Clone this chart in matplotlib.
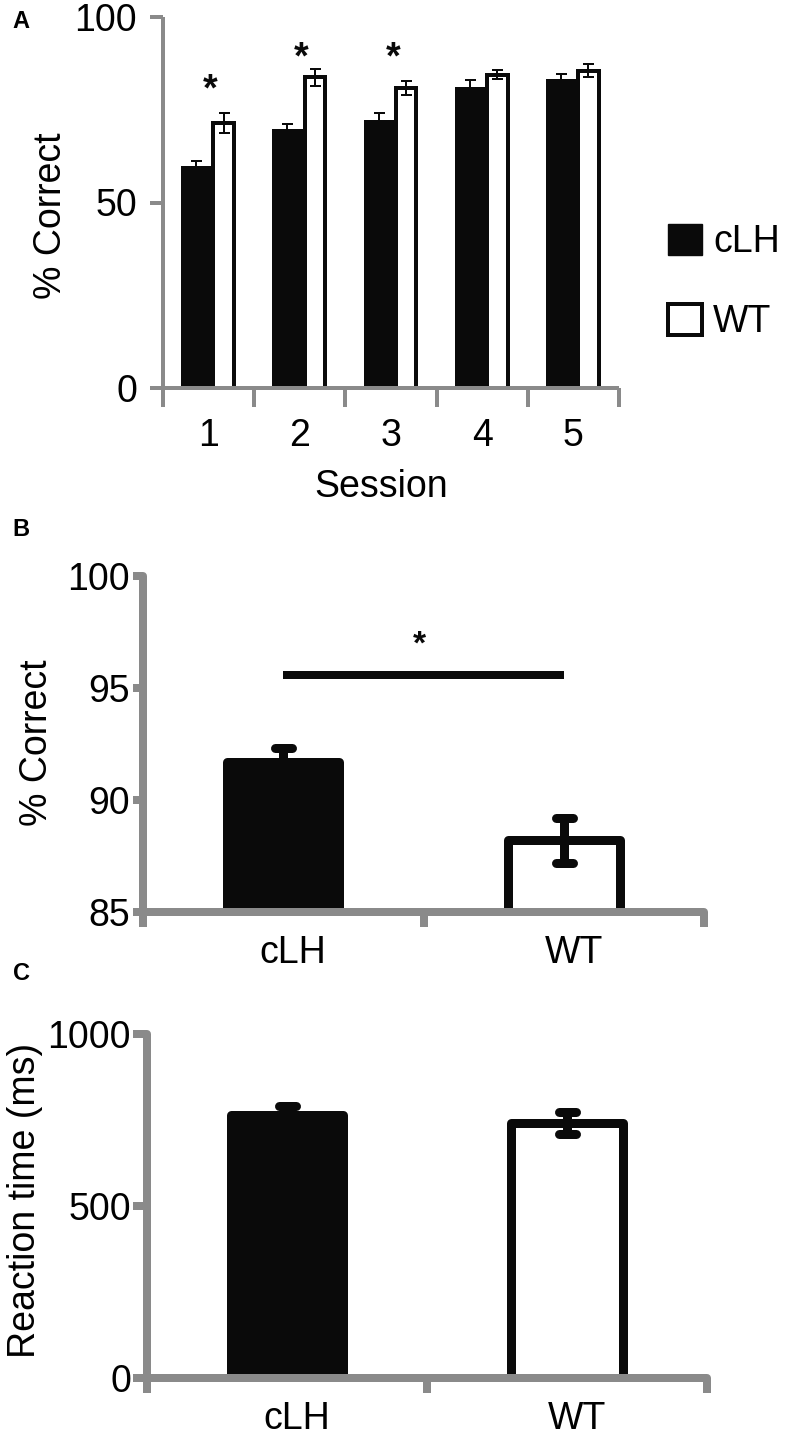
import matplotlib
matplotlib.use('Agg')
import matplotlib.pyplot as plt
from matplotlib.patches import Patch
from matplotlib.markers import MarkerStyle
import numpy as np

plt.rcParams['font.family'] = ['Liberation Sans', 'DejaVu Sans']

# ---------------- data ----------------
# Panel A: % correct per session
sessions = ['1', '2', '3', '4', '5']
clh_pct = [59.9, 69.8, 72.2, 81.0, 83.3]
clh_pct_err = [1.2, 1.3, 1.8, 2.0, 1.3]
wt_pct = [71.4, 83.7, 80.8, 84.4, 85.5]
wt_pct_err = [2.6, 2.4, 1.9, 1.2, 1.7]
sig_session_idx = [0, 1, 2]
sig_star_y = [80.3, 88.7, 88.7]

# Panel B: overall % correct
groups = ['cLH', 'WT']
overall_pct = [91.7, 88.2]
overall_pct_err = [0.6, 1.0]
overall_sig_line_y = 95.6
overall_sig_star_y = 96.9

# Panel C: reaction time (ms)
rt_ms = [765, 741]
rt_ms_err = [26, 33]

# ---------------- style ----------------
W, H = 787, 1437
PX = 72.0 / 100.0  # points per pixel at dpi 100
GRAY = '#8a8a8a'
BLK = '#0a0a0a'
FS = 27

fig = plt.figure(figsize=(W / 100, H / 100), dpi=100)


def rect(l, t, r, b):
    return [l / W, 1 - b / H, (r - l) / W, (b - t) / H]


def style_axes(ax, lw, capstyle):
    for s in ['top', 'right']:
        ax.spines[s].set_visible(False)
    for s in ['left', 'bottom']:
        ax.spines[s].set_color(GRAY)
        ax.spines[s].set_linewidth(lw)
        ax.spines[s].set_capstyle(capstyle)


# ---------------- Panel A ----------------
axA = fig.add_axes(rect(163, 17, 619, 388))
x = np.arange(1, len(sessions) + 1)
axA.bar(x - 0.30, clh_pct, width=0.33, align='edge', color=BLK,
        edgecolor='none', zorder=2)
axA.bar(x + 0.052, wt_pct, width=0.226, align='edge', color='white',
        edgecolor=BLK, linewidth=4 * PX, zorder=2)
axA.errorbar(x - 0.135, clh_pct, yerr=clh_pct_err, fmt='none', ecolor=BLK,
             elinewidth=2 * PX, capsize=5.5 * PX, capthick=2 * PX, zorder=3)
axA.errorbar(x + 0.165, wt_pct, yerr=wt_pct_err, fmt='none', ecolor=BLK,
             elinewidth=2 * PX, capsize=5.5 * PX, capthick=2 * PX, zorder=3)
for i, yy in zip(sig_session_idx, sig_star_y):
    axA.text(x[i] + 0.02, yy, '*', ha='center', va='center', fontsize=27,
             fontweight='bold', color=BLK)

axA.set_xlim(0.5, len(sessions) + 0.5)
axA.set_ylim(0, 100)
style_axes(axA, 4 * PX, 'butt')
axA.spines['left'].set_bounds(0, 100)
axA.spines['bottom'].set_bounds(0.5, len(sessions) + 0.5)
axA.set_yticks([0, 50, 100])
axA.tick_params(axis='y', length=13 * PX, width=4 * PX, color=GRAY,
                labelsize=FS, pad=13 * PX)
axA.set_xticks(np.arange(0.5, len(sessions) + 1, 1.0))
axA.set_xticklabels([])
axA.tick_params(axis='x', which='major', length=19 * PX, width=4 * PX,
                color=GRAY)
axA.set_xticks(x, minor=True)
axA.set_xticklabels(sessions, minor=True)
axA.tick_params(axis='x', which='minor', length=0, labelsize=FS,
                pad=30 * PX)

handles = [Patch(facecolor=BLK, edgecolor=BLK, linewidth=1, label='cLH'),
           Patch(facecolor='white', edgecolor=BLK, linewidth=4 * PX,
                 label='WT')]
axA.legend(handles=handles, loc='center left',
           bbox_to_anchor=(668 / W, 1 - 282 / H),
           bbox_transform=fig.transFigure, frameon=False, fontsize=FS,
           handlelength=0.9, handleheight=0.9, handletextpad=0.3,
           labelspacing=1.15, borderpad=0, borderaxespad=0)

fig.text(51 / W, 1 - 216 / H, '% Correct', rotation=90, ha='center',
         va='center', fontsize=FS)
fig.text(381 / W, 1 - 487 / H, 'Session', ha='center', va='center',
         fontsize=FS)
fig.text(21 / W, 1 - 21 / H, 'A', ha='center', va='center', fontsize=17,
         fontweight='bold')


# ---------------- Panels B & C helper ----------------
def group_panel(ax, vals, errs, ylim, yticks, ytick_len, ylab_pad):
    xc = np.arange(len(groups)) + 0.5
    ax.bar(xc, vals, width=0.40, color=[BLK, 'white'], edgecolor=BLK,
           linewidth=9 * PX, joinstyle='round', zorder=2)
    eb = ax.errorbar(xc, vals, yerr=errs, fmt='none', ecolor=BLK,
                     elinewidth=9 * PX, capsize=8.5 * PX, capthick=9 * PX,
                     zorder=3)
    for cap in eb[1]:
        cap.set_marker(MarkerStyle('_', capstyle='round'))
    for col in eb[2]:
        col.set_capstyle('butt')
    ax.set_xlim(0, len(groups))
    ax.set_ylim(*ylim)
    style_axes(ax, 8 * PX, 'round')
    ax.spines['left'].set_bounds(*ylim)
    ax.spines['bottom'].set_bounds(0, len(groups))
    ax.set_yticks(yticks)
    ax.tick_params(axis='y', length=ytick_len * PX, width=8 * PX,
                   color=GRAY, labelsize=FS, pad=ylab_pad * PX)
    ax.set_xticks(np.arange(0, len(groups) + 1))
    ax.set_xticklabels([])
    ax.tick_params(axis='x', which='major', length=15 * PX, width=8 * PX,
                   color=GRAY)
    ax.set_xticks(xc + 0.035, minor=True)
    ax.set_xticklabels(groups, minor=True)
    ax.tick_params(axis='x', which='minor', length=0, labelsize=FS,
                   pad=23 * PX)
    return xc


# ---------------- Panel B ----------------
axB = fig.add_axes(rect(143, 576, 704, 912))
xcB = group_panel(axB, overall_pct, overall_pct_err, (85, 100),
                  [85, 90, 95, 100], 10, 3)
axB.plot(xcB, [overall_sig_line_y] * len(xcB), color=BLK,
         linewidth=8 * PX, solid_capstyle='butt', zorder=3)
axB.text(xcB.mean() - 0.015, overall_sig_star_y, '*', ha='center',
         va='center', fontsize=24, fontweight='bold', color=BLK)
fig.text(37 / W, 1 - 743 / H, '% Correct', rotation=90, ha='center',
         va='center', fontsize=FS)
fig.text(21 / W, 1 - 530 / H, 'B', ha='center', va='center', fontsize=17,
         fontweight='bold')

# ---------------- Panel C ----------------
axC = fig.add_axes(rect(147, 1034, 707, 1378))
group_panel(axC, rt_ms, rt_ms_err, (0, 1000), [0, 500, 1000], 14, 2)
fig.text(25 / W, 1 - 1200 / H, 'Reaction time (ms)', rotation=90,
         ha='center', va='center', fontsize=FS)
fig.text(22 / W, 1 - 973 / H, 'C', ha='center', va='center', fontsize=17,
         fontweight='bold')

fig.savefig('out.png', dpi=100, facecolor='white')
